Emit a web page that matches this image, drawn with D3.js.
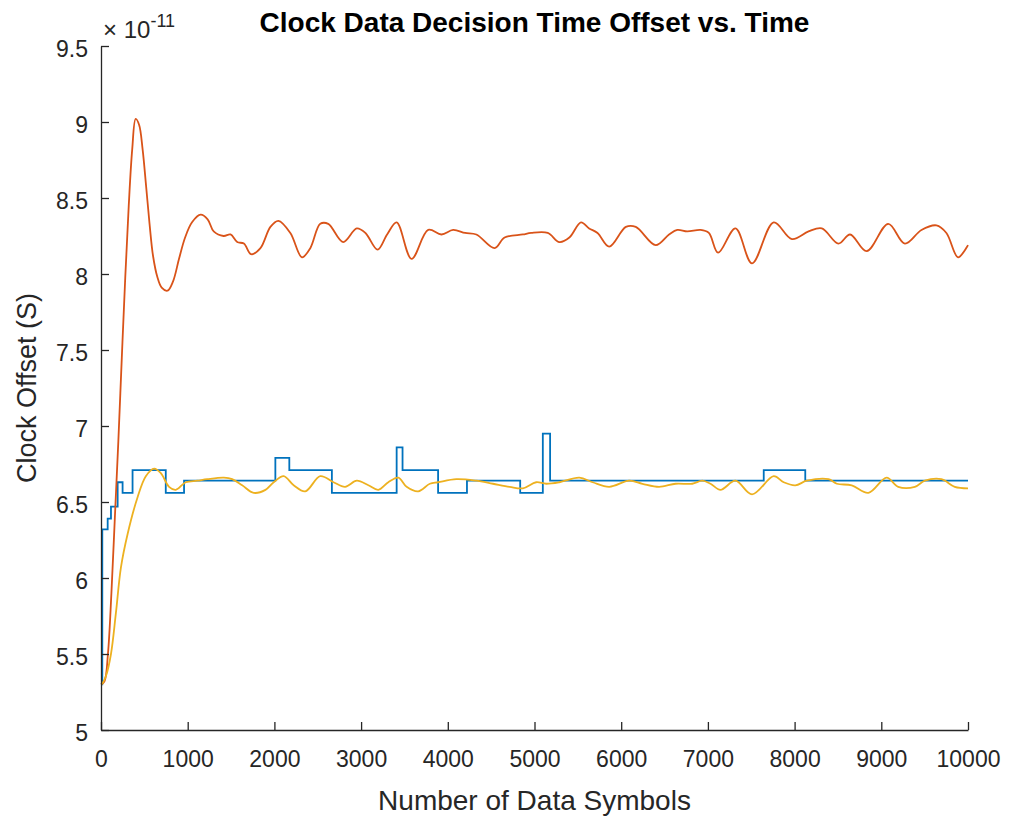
<!DOCTYPE html>
<html>
<head>
<meta charset="utf-8">
<script src="https://cdn.jsdelivr.net/npm/d3@7"></script>
<style>
  body { margin: 0; background: #fff; }
  svg { font-family: "Liberation Sans", Arial, Helvetica, sans-serif; }
  .axis path, .axis line { stroke: #262626; stroke-width: 1.3; }
  .axis text { fill: #262626; font-size: 23px; }
</style>
</head>
<body>
<svg width="1012" height="823"></svg>
<script>
// values in units of 1e-11 s
const blueSteps = [
  [0, 5.30], [15, 6.32], [77, 6.39], [115, 6.47], [192, 6.63], [249, 6.56],
  [364, 6.71], [747, 6.56], [958, 6.64], [2011, 6.79], [2172, 6.71], [2663, 6.56],
  [3410, 6.86], [3478, 6.71], [3888, 6.56], [4221, 6.64], [4835, 6.56], [5096, 6.95],
  [5180, 6.64], [7644, 6.71], [8123, 6.64], [10000, 6.64]
];

const orangeSeries = [
  [0, 5.30], [40, 5.32], [80, 5.50], [120, 5.90], [160, 6.40], [200, 6.90],
  [240, 7.45], [280, 7.98], [320, 8.45], [360, 8.82], [400, 9.02], [440, 8.98],
  [480, 8.82], [520, 8.58], [560, 8.33], [600, 8.12], [650, 7.98], [700, 7.91],
  [767, 7.89], [830, 7.95], [900, 8.10], [970, 8.24], [1050, 8.34], [1149, 8.39],
  [1230, 8.36], [1300, 8.28], [1414, 8.25], [1494, 8.26], [1571, 8.21], [1648, 8.20],
  [1732, 8.13], [1839, 8.17], [1954, 8.31], [2046, 8.35], [2184, 8.27], [2318, 8.11],
  [2414, 8.17], [2529, 8.33], [2621, 8.33], [2793, 8.21], [2950, 8.30], [3050, 8.27],
  [3190, 8.16], [3300, 8.26], [3410, 8.34], [3582, 8.10], [3774, 8.29], [3927, 8.26],
  [4061, 8.29], [4200, 8.27], [4329, 8.26], [4540, 8.17], [4655, 8.24], [4866, 8.26],
  [4962, 8.27], [5153, 8.27], [5287, 8.21], [5402, 8.24], [5536, 8.34], [5630, 8.30],
  [5727, 8.27], [5862, 8.18], [6054, 8.31], [6168, 8.31], [6398, 8.19], [6552, 8.26],
  [6647, 8.29], [6762, 8.28], [6916, 8.29], [7011, 8.27], [7118, 8.14], [7318, 8.30],
  [7509, 8.07], [7759, 8.34], [7969, 8.23], [8161, 8.28], [8314, 8.30], [8506, 8.20],
  [8640, 8.26], [8831, 8.15], [9080, 8.33], [9272, 8.20], [9463, 8.29], [9636, 8.32],
  [9751, 8.27], [9885, 8.11], [10000, 8.19]
];

const yellowSeries = [
  [0, 5.30], [20, 5.31], [60, 5.36], [115, 5.50], [172, 5.77], [230, 6.07],
  [307, 6.29], [421, 6.53], [517, 6.67], [613, 6.72], [690, 6.69], [785, 6.60],
  [862, 6.58], [977, 6.63], [1111, 6.64], [1226, 6.65], [1418, 6.66], [1513, 6.65],
  [1628, 6.61], [1762, 6.56], [1897, 6.58], [1992, 6.63], [2107, 6.67], [2222, 6.61],
  [2356, 6.57], [2529, 6.67], [2682, 6.63], [2816, 6.60], [2950, 6.64], [3084, 6.61],
  [3199, 6.58], [3314, 6.63], [3429, 6.66], [3525, 6.60], [3659, 6.57], [3793, 6.62],
  [3888, 6.63], [4099, 6.65], [4329, 6.64], [4521, 6.62], [4713, 6.60], [4866, 6.59],
  [5019, 6.63], [5134, 6.62], [5287, 6.63], [5517, 6.66], [5670, 6.63], [5862, 6.60],
  [6092, 6.64], [6245, 6.62], [6437, 6.60], [6628, 6.62], [6820, 6.62], [6935, 6.64],
  [7030, 6.62], [7145, 6.58], [7318, 6.64], [7509, 6.55], [7759, 6.67], [7874, 6.63],
  [8008, 6.61], [8142, 6.64], [8391, 6.65], [8487, 6.62], [8659, 6.61], [8851, 6.56],
  [9061, 6.66], [9195, 6.60], [9387, 6.60], [9502, 6.64], [9693, 6.65], [9847, 6.60],
  [10000, 6.59]
];

const xTicks = d3.range(0, 10001, 1000);
const yTicks = d3.range(5, 9.51, 0.5);

const svg = d3.select("svg");
const margin = {top: 46, right: 44, bottom: 93, left: 101},
      width = 1012 - margin.left - margin.right,
      height = 823 - margin.top - margin.bottom;

const x = d3.scaleLinear().domain([0, 10000]).range([margin.left, margin.left + width]);
const y = d3.scaleLinear().domain([5, 9.5]).range([margin.top + height, margin.top]);

// series, drawn in MATLAB order
const lines = [
  {data: blueSteps, color: "#0072BD", curve: d3.curveStepAfter},
  {data: orangeSeries, color: "#D95319", curve: d3.curveCatmullRom},
  {data: yellowSeries, color: "#EDB120", curve: d3.curveCatmullRom}
];

lines.forEach(s => {
  svg.append("path")
    .datum(s.data)
    .attr("fill", "none")
    .attr("stroke", s.color)
    .attr("stroke-width", 1.8)
    .attr("d", d3.line().x(d => x(d[0])).y(d => y(d[1])).curve(s.curve));
});

svg.append("g")
  .attr("class", "axis")
  .attr("transform", `translate(0,${margin.top + height})`)
  .call(d3.axisBottom(x).tickValues(xTicks).tickFormat(d3.format("d"))
    .tickSizeInner(-8).tickSizeOuter(0).tickPadding(21));

svg.append("g")
  .attr("class", "axis")
  .attr("transform", `translate(${margin.left},0)`)
  .call(d3.axisLeft(y).tickValues(yTicks).tickFormat(d => d3.format("")(+d.toFixed(1)))
    .tickSizeInner(-8).tickSizeOuter(0).tickPadding(13))
  .selectAll("text").attr("dy", "0.45em");

// exponent label
const expo = svg.append("text")
  .attr("x", 103).attr("y", 38)
  .attr("fill", "#262626")
  .style("font-size", "24px");
expo.append("tspan").text("\u00d7 10");
expo.append("tspan").attr("dy", -11).style("font-size", "18px").text("-11");

svg.append("text")
  .attr("x", margin.left + width / 2).attr("y", 32)
  .attr("text-anchor", "middle")
  .attr("font-weight", "bold")
  .style("font-size", "28px")
  .attr("fill", "#000")
  .text("Clock Data Decision Time Offset vs. Time");

svg.append("text")
  .attr("x", margin.left + width / 2).attr("y", 810)
  .attr("text-anchor", "middle")
  .style("font-size", "28px")
  .attr("fill", "#262626")
  .text("Number of Data Symbols");

svg.append("text")
  .attr("transform", `translate(36,${margin.top + height / 2}) rotate(-90)`)
  .attr("text-anchor", "middle")
  .style("font-size", "27px")
  .attr("fill", "#262626")
  .text("Clock Offset (S)");
</script>
</body>
</html>
